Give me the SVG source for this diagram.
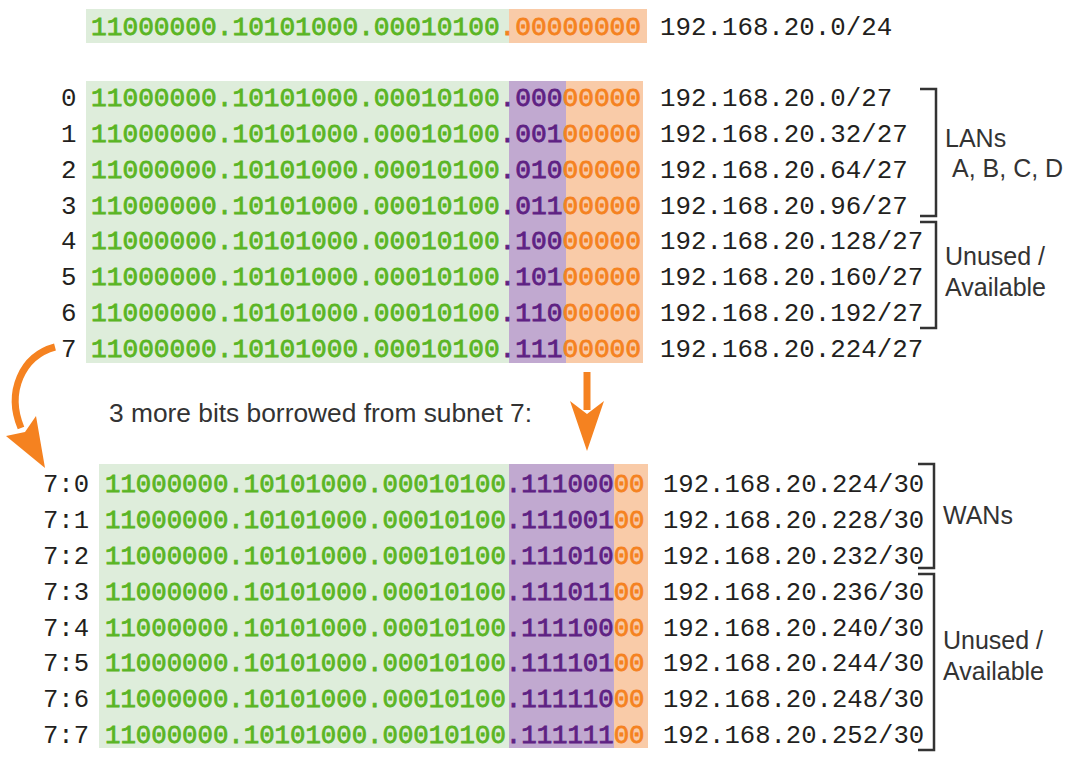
<svg xmlns="http://www.w3.org/2000/svg" width="1076" height="759" viewBox="0 0 1076 759">
<style>
.bgG{fill:#deeddb}
.bgP{fill:#c1a9d0}
.bgO{fill:#f9cba8}
.bin{font-family:"Liberation Mono","DejaVu Sans Mono",monospace;font-weight:normal;stroke-width:0.8px}
.m{font-size:26.2px}
.s{font-size:25.7px}
.g{fill:#5ab524;stroke:#5ab524}
.p{fill:#5e2183;stroke:#5e2183}
.o{fill:#f5821f;stroke:#f5821f}
.ip{font-family:"Liberation Mono","DejaVu Sans Mono",monospace;fill:#231f20;font-size:25.8px}
.ip2{font-family:"Liberation Mono","DejaVu Sans Mono",monospace;fill:#231f20;font-size:25.6px}
.lbl{font-family:"Liberation Sans",Arial,sans-serif;fill:#333333;font-size:25px}
.br{fill:none;stroke:#333333;stroke-width:2.5}
.arr{fill:none;stroke:#f58220;stroke-width:7}
.head{fill:#f58220}
</style>

<g id="network24">
<rect class="bgG" x="86" y="9" width="423" height="34"/>
<rect class="bgO" x="509" y="9" width="138" height="34"/>
<text class="bin m" x="91" y="35"><tspan class="g">11000000.10101000.00010100</tspan><tspan class="o">.00000000</tspan></text>
<text class="ip" x="660" y="35">192.168.20.0/24</text>
</g>

<g id="subnets27">
<rect class="bgG" x="86" y="81" width="423" height="282"/>
<rect class="bgP" x="509" y="81" width="57" height="282"/>
<rect class="bgO" x="566" y="81" width="77" height="282"/>
<g class="bin m">
<text x="91" y="106"><tspan class="g">11000000.10101000.00010100</tspan><tspan class="p">.000</tspan><tspan class="o">00000</tspan></text>
<text x="91" y="142"><tspan class="g">11000000.10101000.00010100</tspan><tspan class="p">.001</tspan><tspan class="o">00000</tspan></text>
<text x="91" y="178"><tspan class="g">11000000.10101000.00010100</tspan><tspan class="p">.010</tspan><tspan class="o">00000</tspan></text>
<text x="91" y="214"><tspan class="g">11000000.10101000.00010100</tspan><tspan class="p">.011</tspan><tspan class="o">00000</tspan></text>
<text x="91" y="249"><tspan class="g">11000000.10101000.00010100</tspan><tspan class="p">.100</tspan><tspan class="o">00000</tspan></text>
<text x="91" y="285"><tspan class="g">11000000.10101000.00010100</tspan><tspan class="p">.101</tspan><tspan class="o">00000</tspan></text>
<text x="91" y="321"><tspan class="g">11000000.10101000.00010100</tspan><tspan class="p">.110</tspan><tspan class="o">00000</tspan></text>
<text x="91" y="357"><tspan class="g">11000000.10101000.00010100</tspan><tspan class="p">.111</tspan><tspan class="o">00000</tspan></text>
</g>
<g class="ip">
<text x="61" y="106">0</text>
<text x="61" y="142">1</text>
<text x="61" y="178">2</text>
<text x="61" y="214">3</text>
<text x="61" y="249">4</text>
<text x="61" y="285">5</text>
<text x="61" y="321">6</text>
<text x="61" y="357">7</text>
<text x="660" y="106">192.168.20.0/27</text>
<text x="660" y="142">192.168.20.32/27</text>
<text x="660" y="178">192.168.20.64/27</text>
<text x="660" y="214">192.168.20.96/27</text>
<text x="660" y="249">192.168.20.128/27</text>
<text x="660" y="285">192.168.20.160/27</text>
<text x="660" y="321">192.168.20.192/27</text>
<text x="660" y="357">192.168.20.224/27</text>
</g>
</g>

<g id="lans">
<path class="br" d="M920,89 H936 V216 H920"/>
<text class="lbl" x="945" y="147">LANs</text>
<text class="lbl" x="952" y="177">A, B, C, D</text>
</g>

<g id="unused27">
<path class="br" d="M920,222 H936 V328 H920"/>
<text class="lbl" x="945" y="265">Unused /</text>
<text class="lbl" x="945" y="296">Available</text>
</g>

<text class="lbl" x="109" y="422" textLength="423" lengthAdjust="spacingAndGlyphs">3 more bits borrowed from subnet 7:</text>

<g id="subnets30">
<rect class="bgG" x="99" y="464" width="410" height="284"/>
<rect class="bgP" x="509" y="464" width="105" height="284"/>
<rect class="bgO" x="614" y="464" width="34" height="284"/>
<g class="bin s">
<text x="105" y="492"><tspan class="g">11000000.10101000.00010100</tspan><tspan class="p">.111000</tspan><tspan class="o">00</tspan></text>
<text x="105" y="528"><tspan class="g">11000000.10101000.00010100</tspan><tspan class="p">.111001</tspan><tspan class="o">00</tspan></text>
<text x="105" y="564"><tspan class="g">11000000.10101000.00010100</tspan><tspan class="p">.111010</tspan><tspan class="o">00</tspan></text>
<text x="105" y="600"><tspan class="g">11000000.10101000.00010100</tspan><tspan class="p">.111011</tspan><tspan class="o">00</tspan></text>
<text x="105" y="636"><tspan class="g">11000000.10101000.00010100</tspan><tspan class="p">.111100</tspan><tspan class="o">00</tspan></text>
<text x="105" y="671"><tspan class="g">11000000.10101000.00010100</tspan><tspan class="p">.111101</tspan><tspan class="o">00</tspan></text>
<text x="105" y="707"><tspan class="g">11000000.10101000.00010100</tspan><tspan class="p">.111110</tspan><tspan class="o">00</tspan></text>
<text x="105" y="743"><tspan class="g">11000000.10101000.00010100</tspan><tspan class="p">.111111</tspan><tspan class="o">00</tspan></text>
</g>
<g class="ip2">
<text x="43" y="492">7:0</text>
<text x="43" y="528">7:1</text>
<text x="43" y="564">7:2</text>
<text x="43" y="600">7:3</text>
<text x="43" y="636">7:4</text>
<text x="43" y="671">7:5</text>
<text x="43" y="707">7:6</text>
<text x="43" y="743">7:7</text>
<text x="663" y="492">192.168.20.224/30</text>
<text x="663" y="528">192.168.20.228/30</text>
<text x="663" y="564">192.168.20.232/30</text>
<text x="663" y="600">192.168.20.236/30</text>
<text x="663" y="636">192.168.20.240/30</text>
<text x="663" y="671">192.168.20.244/30</text>
<text x="663" y="707">192.168.20.248/30</text>
<text x="663" y="743">192.168.20.252/30</text>
</g>
</g>

<g id="wans">
<path class="br" d="M918,464 H934 V568 H918"/>
<text class="lbl" x="943" y="524">WANs</text>
</g>

<g id="unused30">
<path class="br" d="M918,574 H934 V750 H918"/>
<text class="lbl" x="943" y="649">Unused /</text>
<text class="lbl" x="943" y="680">Available</text>
</g>

<g id="connectors">
<path class="arr" d="M55,347 C22,356 6,392 21,428"/>
<polygon class="head" points="6,436 45,468 36,416 25,432"/>
<path class="arr" d="M587,372 V410"/>
<polygon class="head" points="570,401 587,451 604,401 587,414"/>
</g>
</svg>
